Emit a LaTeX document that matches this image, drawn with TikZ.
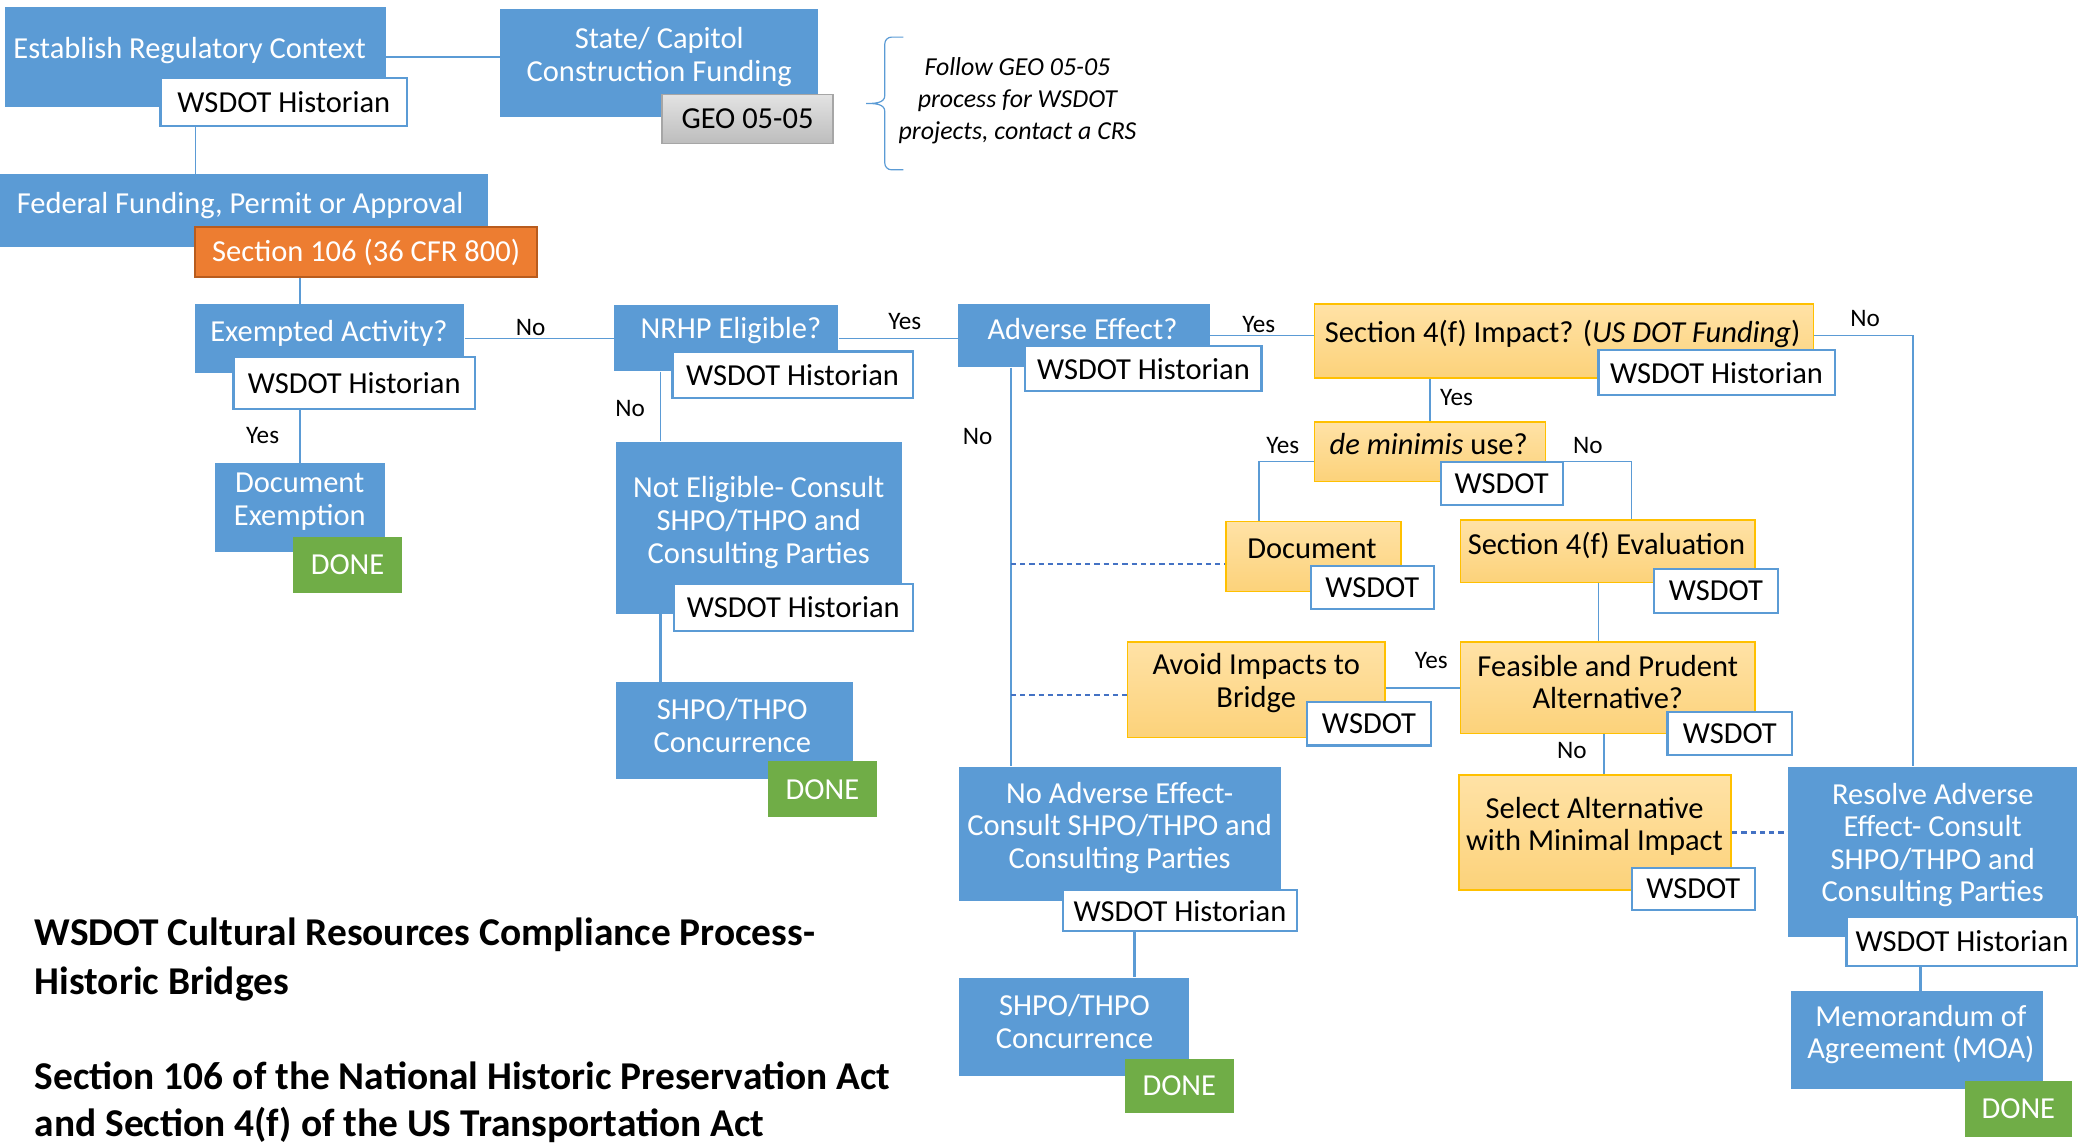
\documentclass[tikz,border=0pt]{standalone}
\usepackage{fontspec}
\setmainfont{Carlito}
\usetikzlibrary{backgrounds}
\definecolor{bblue}{HTML}{5B9BD5}
\definecolor{borange}{HTML}{ED7D31}
\definecolor{oborder}{HTML}{B85C1E}
\definecolor{bgreen}{HTML}{70AD47}
\definecolor{yel1}{HTML}{FFE2A6}
\definecolor{yel2}{HTML}{FCD27A}
\definecolor{yborder}{HTML}{FFC000}
\definecolor{gry1}{HTML}{E3E3E3}
\definecolor{gry2}{HTML}{BDBDBD}
\definecolor{dashblue}{HTML}{4472C4}
\begin{document}
\begin{tikzpicture}[x=1pt,y=-1pt,
  rect/.style n args={4}{minimum width={(#3-#1)*1pt}, minimum height={(#4-#2)*1pt}, at={({(#1+#3)/2},{(#2+#4)/2})}},
  bluebox/.style={fill=bblue, inner sep=0pt},
  lbl/.style={fill=white, draw=bblue, line width=1.6pt, inner sep=0pt},
  yelbox/.style={top color=yel1, bottom color=yel2, draw=yborder, line width=1.2pt, inner sep=0pt},
  donebox/.style={fill=bgreen, inner sep=0pt},
  grybox/.style={top color=gry1, bottom color=gry2, draw=gray!70, line width=1pt, inner sep=0pt},
  orgbox/.style={fill=borange, draw=oborder, line width=1.2pt, inner sep=0pt},
  wt/.style={text=white, font=\fontsize{23}{24.6}\selectfont, align=center, inner sep=0pt},
  bt/.style={text=black, font=\fontsize{23}{24.6}\selectfont, align=center, inner sep=0pt},
  yn/.style={text=black, font=\fontsize{19}{22}\selectfont, inner sep=0pt},
  note/.style={text=black, font=\fontsize{19.5}{24}\selectfont\itshape, align=center, inner sep=0pt},
  ttl/.style={text=black, font=\fontsize{29.7}{36}\selectfont\bfseries, inner sep=0pt, anchor=base west},
  conn/.style={draw=bblue, line width=1.1pt},
  thk/.style={draw=bblue, line width=2.2pt},
  dconn/.style={draw=dashblue, line width=1.8pt, dash pattern=on 4pt off 3pt},
]
\useasboundingbox (0,0) rectangle (1568,862);

% Establish
\node[bluebox, rect={4}{5}{291}{81}] (est) {};
\node[wt] (est-t) at (143,38) {Establish Regulatory Context};
\node[lbl, bt, rect={121}{59}{307}{95}] (est-l) {WSDOT Historian};

% State
\node[bluebox, rect={377}{7}{617}{88}] (state) {};
\node[wt] (state-t) at (497,43) {State/ Capitol\\Construction Funding};
\node[grybox, bt, rect={499}{71}{628}{108}] (geo) {GEO 05-05};

% brace and note
\draw[bblue, line width=0.9pt] (681,28) -- (672,28) to[out=180,in=90] (667,33) -- (667,72) to[out=-90,in=0] (653,78) to[out=0,in=90] (667,84) -- (667,123) to[out=-90,in=180] (672,128) -- (681,128);
\node[note] (nt) at (767,76) {Follow GEO 05-05\\process for WSDOT\\projects, contact a CRS};

% Federal
\node[bluebox, rect={0}{131}{368}{186}] (fed) {};
\node[wt] (fed-t) at (181,155) {Federal Funding, Permit or Approval};
\node[orgbox, wt, rect={147}{171}{405}{209}] (s106) {Section 106 (36 CFR 800)};

% Exempted
\node[bluebox, rect={147}{229}{350}{281}] (exm) {};
\node[wt] (exm-t) at (248,251) {Exempted Activity?};
\node[lbl, bt, rect={176}{269}{358}{308}] (exm-l) {WSDOT Historian};
\node[yn] (exm-yes) at (198,328) {Yes};
\node[yn] (exm-no) at (400,247) {No};

% Document exemption
\node[bluebox, rect={162}{349}{290}{416}] (dex) {};
\node[wt] (dex-t) at (226,378) {Document\\Exemption};
\node[donebox, wt, rect={221}{405}{303}{447}] (dex-d) {DONE};

% NRHP
\node[bluebox, rect={463}{230}{632}{280}] (nrhp) {};
\node[wt] (nrhp-t) at (551,249) {NRHP Eligible?};
\node[lbl, bt, rect={507}{265}{688}{300}] (nrhp-l) {WSDOT Historian};
\node[yn] (nrhp-yes) at (682,242) {Yes};
\node[yn] (nrhp-no) at (475,308) {No};

% Not eligible
\node[bluebox, rect={464}{333}{680}{463}] (ne) {};
\node[wt] (ne-t) at (572,394) {Not Eligible- Consult\\SHPO/THPO and\\Consulting Parties};
\node[lbl, bt, rect={508}{440}{688}{476}] (ne-l) {WSDOT Historian};

% SHPO 1
\node[bluebox, rect={464}{514}{643}{587}] (sh1) {};
\node[wt] (sh1-t) at (552,547) {SHPO/THPO\\Concurrence};
\node[donebox, wt, rect={579}{574}{661}{616}] (sh1-d) {DONE};

% Adverse
\node[bluebox, rect={722}{229}{912}{277}] (adv) {};
\node[wt] (adv-t) at (816,248) {Adverse Effect?};
\node[lbl, bt, rect={773}{261}{951}{295}] (adv-l) {WSDOT Historian};
\node[yn] (adv-yes) at (949,245) {Yes};
\node[yn] (adv-no) at (737,329) {No};

% Section 4(f)
\node[yelbox, rect={991}{229}{1367}{285}] (s4f) {};
\node[bt] (s4f-t) at (1178,252) {Section 4(f) Impact? (\textit{US DOT Funding})};
\node[lbl, bt, rect={1205}{264}{1383}{298}] (s4f-l) {WSDOT Historian};
\node[yn] (s4f-no) at (1406,240) {No};
\node[yn] (s4f-yes) at (1098,300) {Yes};

% de minimis
\node[yelbox, rect={991}{318}{1165}{363}] (dm) {};
\node[bt] (dm-t) at (1077,335) {\textit{de minimis} use?};
\node[lbl, bt, rect={1086}{348}{1178}{381}] (dm-l) {WSDOT};
\node[yn] (dm-yes) at (967,336) {Yes};
\node[yn] (dm-no) at (1197,336) {No};

% Document
\node[yelbox, rect={924}{393}{1056}{446}] (doc) {};
\node[bt] (doc-t) at (989,414) {Document};
\node[lbl, bt, rect={988}{427}{1081}{459}] (doc-l) {WSDOT};

% Evaluation
\node[yelbox, rect={1101}{392}{1323}{439}] (ev) {};
\node[bt] (ev-t) at (1211,411) {Section 4(f) Evaluation};
\node[lbl, bt, rect={1247}{429}{1340}{462}] (ev-l) {WSDOT};

% Feasible
\node[yelbox, rect={1101}{484}{1323}{553}] (fp) {};
\node[bt] (fp-t) at (1212,514) {Feasible and Prudent\\Alternative?};
\node[lbl, bt, rect={1257}{537}{1351}{569}] (fp-l) {WSDOT};
\node[yn] (fp-yes) at (1079,498) {Yes};
\node[yn] (fp-no) at (1185,566) {No};

% Avoid
\node[yelbox, rect={850}{484}{1044}{556}] (av) {};
\node[bt] (av-t) at (947,515) {Avoid Impacts to\\Bridge};
\node[lbl, bt, rect={985}{529}{1079}{562}] (av-l) {WSDOT};

% Select
\node[yelbox, rect={1100}{584}{1305}{671}] (sel) {};
\node[bt] (sel-t) at (1202,623) {Select Alternative\\with Minimal Impact};
\node[lbl, bt, rect={1230}{654}{1323}{686}] (sel-l) {WSDOT};

% No adverse effect
\node[bluebox, rect={723}{578}{966}{679}] (na) {};
\node[wt] (na-t) at (844,624) {No Adverse Effect-\\Consult SHPO/THPO and\\Consulting Parties};
\node[lbl, bt, rect={801}{671}{978}{702}] (na-l) {WSDOT Historian};

% SHPO 2
\node[bluebox, rect={723}{737}{896}{811}] (sh2) {};
\node[wt] (sh2-t) at (810,770) {SHPO/THPO\\Concurrence};
\node[donebox, wt, rect={848}{798}{930}{839}] (sh2-d) {DONE};

% Resolve
\node[bluebox, rect={1348}{578}{1566}{706}] (rs) {};
\node[wt] (rs-t) at (1457,637) {Resolve Adverse\\Effect- Consult\\SHPO/THPO and\\Consulting Parties};
\node[lbl, bt, rect={1392}{691}{1566}{728}] (rs-l) {WSDOT Historian};

% MOA
\node[bluebox, rect={1350}{747}{1540}{821}] (moa) {};
\node[wt] (moa-t) at (1448,780) {Memorandum of\\Agreement (MOA)};
\node[donebox, wt, rect={1481}{815}{1562}{857}] (moa-d) {DONE};

% Title
\node[ttl] (t1) at (26,713) {WSDOT Cultural Resources Compliance Process-};
\node[ttl] (t2) at (26,750) {Historic Bridges};
\node[ttl] (t3) at (26,821) {Section 106 of the National Historic Preservation Act};
\node[ttl] (t4) at (26,857) {and Section 4(f) of the US Transportation Act};

\begin{pgfonlayer}{background}
\draw[conn] (est.east) -- (est.east -| state.west);
\draw[conn] (est.south) -- (est.south |- fed.north);
\draw[conn] (dex.north |- s106.south) -- (dex.north |- exm.north);
\draw[conn] (dex.north |- exm.south) -- (dex.north);
\draw[conn] (exm.east) -- (exm.east -| nrhp.west);
\draw[conn] (nrhp.east) -- (nrhp.east -| adv.west);
\coordinate (cne) at (498,0);
\draw[conn] (cne |- nrhp.south) -- (cne |- ne.north);
\draw[thk] (cne |- ne.south) -- (cne |- sh1.north);
\coordinate (cadv) at (762,0);
\draw[conn] (cadv |- adv.south) -- (cadv |- na.north);
\coordinate (cd1) at (762,425);
\coordinate (cd2) at (762,524);
\draw[dconn] (cd1) -- (cd1 -| doc.west);
\draw[dconn] (cd2) -- (cd2 -| av.west);
\draw[conn] (adv.east) -- (adv.east -| s4f.west);
\coordinate (cno) at (1442,253);
\draw[conn] (s4f.east |- cno) -- (cno) -- (cno |- rs.north);
\draw[conn] (dm.north |- s4f.south) -- (dm.north);
\coordinate (cyes) at (949,348);
\draw[conn] (dm.west |- cyes) -- (cyes) -- (cyes |- doc.north);
\coordinate (cnoo) at (1230,348);
\draw[conn] (dm.east |- cnoo) -- (cnoo) -- (cnoo |- ev.north);
\coordinate (cev) at (1205,0);
\draw[conn] (cev |- ev.south) -- (cev |- fp.north);
\draw[conn] (fp.west) -- (fp.west -| av.east);
\coordinate (cfp) at (1209,0);
\draw[conn] (cfp |- fp.south) -- (cfp |- sel.north);
\draw[dconn] (sel.east) -- (sel.east -| rs.west);
\coordinate (cna) at (855,0);
\draw[thk] (cna |- na.south) -- (cna |- sh2.north);
\coordinate (crs) at (1448,0);
\draw[thk] (crs |- rs.south) -- (crs |- moa.north);
\end{pgfonlayer}
\end{tikzpicture}
\end{document}
